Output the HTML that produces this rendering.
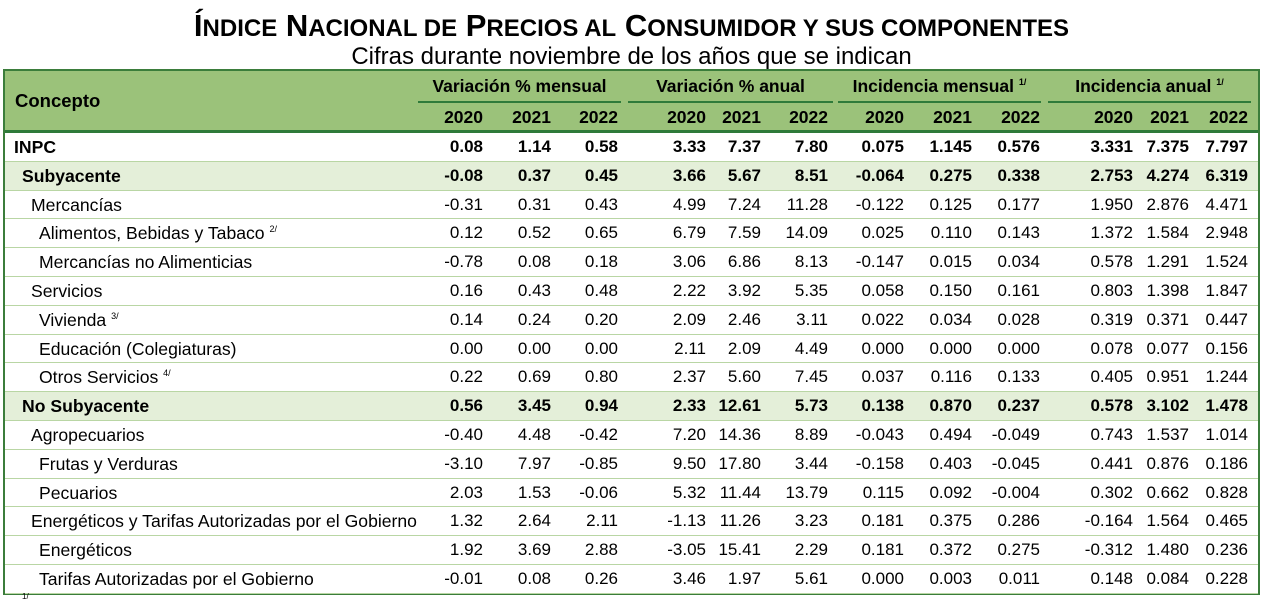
<!DOCTYPE html>
<html><head><meta charset="utf-8"><style>
body{margin:0;width:1263px;height:597px;background:#fff;overflow:hidden;position:relative;font-family:"Liberation Sans",Arial,sans-serif;color:#000}
.a{position:absolute;white-space:nowrap}
#title{left:0;width:1263px;text-align:center;top:8px;font-size:31px;font-weight:bold}
#title small{font-size:24px}
#sub{left:0;width:1263px;text-align:center;top:43px;font-size:24px}
#box{left:3px;top:69px;width:1253px;height:522px;border:2px solid #3b7d3b;box-sizing:content-box}
#hdr{left:5px;top:71px;width:1253px;height:59px;background:#9bc27a}
.hl{position:absolute;height:2px;background:#2f7a3a}
.row{position:absolute;left:5px;width:1253px;height:28px;border-bottom:1px solid #b9d6a4}
.t{position:absolute;font-size:17.6px;top:4px;white-space:nowrap}
.v{position:absolute;font-size:17px;top:4px;text-align:right;width:80px}
.b{font-weight:bold}
.h{position:absolute;font-size:17.5px;font-weight:bold;white-space:nowrap}
</style></head><body>
<div class="a" id="title">Í<small>NDICE</small> N<small>ACIONAL DE</small> P<small>RECIOS AL</small> C<small>ONSUMIDOR Y SUS COMPONENTES</small></div>
<div class="a" id="sub">Cifras durante noviembre de los años que se indican</div>
<div class="a" id="hdr"></div>
<div class="a" id="box"></div>
<div id="tbl"></div>
<div class="a" style="left:22px;top:592px;font-size:8px">1/</div>
<script>
const groups=["Variación % mensual","Variación % anual","Incidencia mensual","Incidencia anual"];
const years=["2020","2021","2022"];
const rights=[483,551,618,706,761,828,904,972,1040,1133,1189,1248];
const rows=[
["INPC",14,1,0,["0.08","1.14","0.58","3.33","7.37","7.80","0.075","1.145","0.576","3.331","7.375","7.797"]],
["Subyacente",22,1,1,["-0.08","0.37","0.45","3.66","5.67","8.51","-0.064","0.275","0.338","2.753","4.274","6.319"]],
["Mercancías",31,0,0,["-0.31","0.31","0.43","4.99","7.24","11.28","-0.122","0.125","0.177","1.950","2.876","4.471"]],
["Alimentos, Bebidas y Tabaco <sup style='font-size:9px'>2/</sup>",39,0,0,["0.12","0.52","0.65","6.79","7.59","14.09","0.025","0.110","0.143","1.372","1.584","2.948"]],
["Mercancías no Alimenticias",39,0,0,["-0.78","0.08","0.18","3.06","6.86","8.13","-0.147","0.015","0.034","0.578","1.291","1.524"]],
["Servicios",31,0,0,["0.16","0.43","0.48","2.22","3.92","5.35","0.058","0.150","0.161","0.803","1.398","1.847"]],
["Vivienda <sup style='font-size:9px'>3/</sup>",39,0,0,["0.14","0.24","0.20","2.09","2.46","3.11","0.022","0.034","0.028","0.319","0.371","0.447"]],
["Educación (Colegiaturas)",39,0,0,["0.00","0.00","0.00","2.11","2.09","4.49","0.000","0.000","0.000","0.078","0.077","0.156"]],
["Otros Servicios <sup style='font-size:9px'>4/</sup>",39,0,0,["0.22","0.69","0.80","2.37","5.60","7.45","0.037","0.116","0.133","0.405","0.951","1.244"]],
["No Subyacente",22,1,1,["0.56","3.45","0.94","2.33","12.61","5.73","0.138","0.870","0.237","0.578","3.102","1.478"]],
["Agropecuarios",31,0,0,["-0.40","4.48","-0.42","7.20","14.36","8.89","-0.043","0.494","-0.049","0.743","1.537","1.014"]],
["Frutas y Verduras",39,0,0,["-3.10","7.97","-0.85","9.50","17.80","3.44","-0.158","0.403","-0.045","0.441","0.876","0.186"]],
["Pecuarios",39,0,0,["2.03","1.53","-0.06","5.32","11.44","13.79","0.115","0.092","-0.004","0.302","0.662","0.828"]],
["Energéticos y Tarifas Autorizadas por el Gobierno",31,0,0,["1.32","2.64","2.11","-1.13","11.26","3.23","0.181","0.375","0.286","-0.164","1.564","0.465"]],
["Energéticos",39,0,0,["1.92","3.69","2.88","-3.05","15.41","2.29","0.181","0.372","0.275","-0.312","1.480","0.236"]],
["Tarifas Autorizadas por el Gobierno",39,0,0,["-0.01","0.08","0.26","3.46","1.97","5.61","0.000","0.003","0.011","0.148","0.084","0.228"]]
];
const T=document.getElementById('tbl');
let h='';
h+=`<div class="h" style="left:15px;top:90px;font-size:18.5px">Concepto</div>`;
const gx=[[418,621],[628,833],[838,1041],[1048,1251]];
groups.forEach((g,i)=>{
 const sup=i>=2?" <sup style='font-size:9px'>1/</sup>":"";
 h+=`<div class="h" style="left:${gx[i][0]}px;width:${gx[i][1]-gx[i][0]}px;text-align:center;top:76px">${g}${sup}</div>`;
 h+=`<div class="hl" style="left:${gx[i][0]}px;width:${gx[i][1]-gx[i][0]}px;top:101px"></div>`;
});
rights.forEach((r,i)=>{h+=`<div class="h" style="left:${r-60}px;width:60px;text-align:right;top:107px">${years[i%3]}</div>`;});
h+=`<div class="hl" style="left:5px;width:1253px;top:130px;height:3px"></div>`;
const top0=133,rh=28.8;
rows.forEach((r,i)=>{
 const y=Math.round(top0+i*rh);
 const hh=Math.round(top0+(i+1)*rh)-y-1;
 h+=`<div class="row" style="top:${y}px;height:${hh}px;background:${r[3]?'#e4efd9':'#fff'}">`;
 h+=`<div class="t ${r[2]?'b':''}" style="left:${r[1]-5}px">${r[0]}</div>`;
 r[4].forEach((v,j)=>{h+=`<div class="v ${r[2]?'b':''}" style="left:${rights[j]-85}px">${v}</div>`;});
 h+='</div>';
});
T.innerHTML=h;
</script>
</body></html>
